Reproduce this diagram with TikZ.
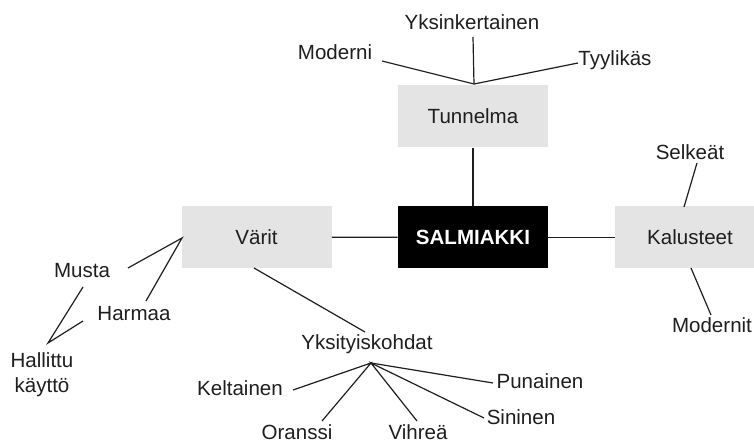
\documentclass[tikz,border=0pt]{standalone}
\usepackage{fontspec}
\setmainfont{Liberation Sans}
\definecolor{boxgray}{HTML}{E4E4E4}
\definecolor{ink}{HTML}{1E1E1E}
\begin{document}
\begin{tikzpicture}[x=0.75pt,y=-0.75pt,
  lbl/.style={inner sep=0pt, text=ink, font=\fontsize{15.4}{19}\selectfont, align=center},
  box/.style={fill=boxgray, draw=none, inner sep=0pt, minimum width=112.5pt, minimum height=46.5pt, text=ink, font=\fontsize{15.4}{19}\selectfont},
  darkbox/.style={box, fill=black, text=white, font=\fontsize{15.4}{19}\selectfont\bfseries},
  conn/.style={line width=0.9pt, draw=ink}]
\useasboundingbox (0,0) rectangle (754,442);
% boxes
\node[box] (tun) at (473,116.5) {Tunnelma};
\node[darkbox] (sal) at (473,237.5) {SALMIAKKI};
\node[box] (var) at (256.5,237) {Värit};
\node[box] (kal) at (690,237.5) {Kalusteet};
% labels
\node[lbl] (yks) at (472,22) {Yksinkertainen};
\node[lbl] (mod) at (335,52) {Moderni};
\node[lbl] (tyy) at (615,60) {Tyylikäs};
\node[lbl] (sel) at (690,152) {Selkeät};
\node[lbl] (modn) at (712,325) {Modernit};
\node[lbl] (mus) at (82,271) {Musta};
\node[lbl] (har) at (134,314) {Harmaa};
\node[lbl] (hal) at (42,375) {Hallittu\\käyttö};
\node[lbl] (ykh) at (367,344) {Yksityiskohdat};
\node[lbl] (kel) at (240,388) {Keltainen};
\node[lbl] (ora) at (297,432) {Oranssi};
\node[lbl] (vih) at (418,432) {Vihreä};
\node[lbl] (sin) at (521,417) {Sininen};
\node[lbl] (pun) at (540,381) {Punainen};
% connector end points
\coordinate (tapex) at (474,84);
\coordinate (modE) at (382,61);
\coordinate (yksE) at (473,37);
\coordinate (tyyE) at (578,63);
\coordinate (selE) at (697,163);
\coordinate (kalT) at (684,207);
\coordinate (kalB) at (691,268);
\coordinate (modnE) at (711,315);
\coordinate (vapex) at (182,238);
\coordinate (musE) at (128,268);
\coordinate (harE) at (146,301);
\coordinate (hapex) at (48,343);
\coordinate (musE2) at (83,287);
\coordinate (harE2) at (83,321);
\coordinate (varB) at (254,268);
\coordinate (ykhE) at (365,332);
\coordinate (yapex) at (371,363);
\coordinate (kelE) at (293,390);
\coordinate (oraE) at (322,421);
\coordinate (vihE) at (417,421);
\coordinate (sinE) at (484,418);
\coordinate (punE) at (493,383);
% connectors
\draw[conn] (tun) -- (sal);
\draw[conn] (var) -- (sal);
\draw[conn] (sal) -- (kal.west);
\draw[conn] (modE) -- (tapex) -- (tyyE);
\draw[conn] (yksE) -- (tapex);
\draw[conn] (selE) -- (kalT);
\draw[conn] (kalB) -- (modnE);
\draw[conn] (musE) -- (vapex) -- (harE);
\draw[conn] (musE2) -- (hapex) -- (harE2);
\draw[conn] (varB) -- (ykhE);
\draw[conn] (kelE) -- (yapex) -- (oraE);
\draw[conn] (vihE) -- (yapex) -- (sinE);
\draw[conn] (yapex) -- (punE);
\end{tikzpicture}
\end{document}
